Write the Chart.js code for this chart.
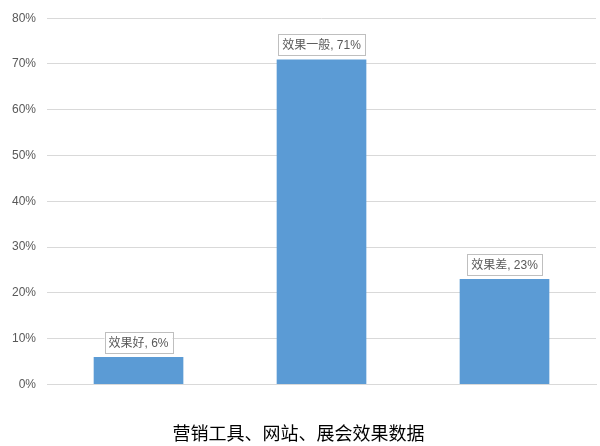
<!DOCTYPE html>
<html>
<head>
<meta charset="utf-8">
<script src="https://cdn.jsdelivr.net/npm/chart.js@4/dist/chart.umd.min.js"></script>
<style>
  html, body { margin: 0; padding: 0; background: #fff; }
  #wrap { width: 600px; height: 446px; }
</style>
</head>
<body>
<div id="wrap"><canvas id="myChart"></canvas></div>
<script>
"use strict";

const categories = ["效果好", "效果一般", "效果差"];
const values = [6, 71, 23];
const yTicks = [0, 10, 20, 30, 40, 50, 60, 70, 80];
const titleText = "营销工具、网站、展会效果数据";

const FONT = "'Liberation Sans', 'Noto Sans CJK SC', Arial, sans-serif";

// boxed label above each bar: "name, value%"
const barLabels = {
  id: "barLabels",
  afterDatasetsDraw(chart) {
    const c = chart.ctx;
    const meta = chart.getDatasetMeta(0);
    c.save();
    c.font = "12px " + FONT;
    c.textAlign = "center";
    c.textBaseline = "middle";
    meta.data.forEach((bar, i) => {
      const txt = categories[i] + ", " + values[i] + "%";
      const w = c.measureText(txt).width + 8;
      const h = 21;
      const cx = bar.x;
      const bottom = bar.y - 4;
      c.fillStyle = "#fff";
      c.fillRect(cx - w / 2, bottom - h, w, h);
      c.strokeStyle = "#bfbfbf";
      c.lineWidth = 1;
      c.strokeRect(Math.round(cx - w / 2) + 0.5, Math.round(bottom - h) + 0.5, Math.round(w), h);
      c.fillStyle = "#595959";
      c.fillText(txt, cx, bottom - h / 2 + 1);
    });
    c.restore();
  }
};

const ctx = document.getElementById("myChart");

new Chart(ctx, {
  type: "bar",
  data: {
    labels: categories,
    datasets: [
      {
        data: values,
        backgroundColor: "#5b9bd5",
        borderWidth: 0,
        barPercentage: 0.98,
        categoryPercentage: 0.5,
      },
    ],
  },
  options: {
    responsive: true,
    maintainAspectRatio: false,
    animation: false,
    layout: { padding: { left: 1, right: 4, top: 4, bottom: 2 } },
    plugins: {
      legend: { display: false },
      tooltip: { enabled: false },
      title: {
        display: true,
        position: "bottom",
        text: titleText,
        color: "#000",
        font: { family: "'Noto Sans CJK SC', sans-serif", size: 18, weight: "normal" },
        padding: { top: 30, bottom: 0 },
      },
    },
    scales: {
      x: {
        grid: { display: false },
        border: { display: true, color: "#d9d9d9" },
        ticks: { display: false },
      },
      y: {
        min: 0,
        max: 80,
        afterBuildTicks(axis) {
          axis.ticks = yTicks.map(v => ({ value: v }));
        },
        grid: { color: "#d9d9d9", drawTicks: false },
        border: { display: false },
        ticks: {
          padding: 11,
          color: "#595959",
          font: { family: FONT, size: 12 },
          callback: v => v + "%",
        },
      },
    },
  },
  plugins: [barLabels],
});
</script>
</body>
</html>
